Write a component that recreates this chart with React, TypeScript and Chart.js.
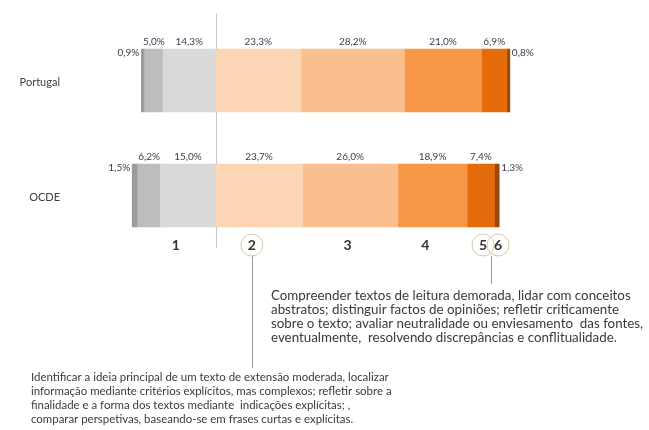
import React, { useEffect, useRef } from "react";
import { Chart, registerables } from "chart.js";

Chart.register(...registerables);

// ---- data ----
const countries = ["Portugal", "OCDE"];
const belowLevel1b = [0.9, 1.5];
const level1b = [5.0, 6.2];
const level1a = [14.3, 15.0];
const level2 = [23.3, 23.7];
const level3 = [28.2, 26.0];
const level4 = [21.0, 18.9];
const level5 = [6.9, 7.4];
const level6 = [0.8, 1.3];
const levelTicks = ["1", "2", "3", "4", "5", "6"];
const levelTickValues = [-10.8, 9.9, 36.0, 57.2, 72.9, 77.0];
const circledTicks = [1, 4, 5];

const rightText = [
  "Compreender textos de leitura demorada, lidar com conceitos",
  "abstratos; distinguir factos de opiniões; refletir criticamente",
  "sobre o texto; avaliar neutralidade ou enviesamento  das fontes,",
  "eventualmente,  resolvendo discrepâncias e conflitualidade.",
];
const leftText = [
  "Identificar a ideia principal de um texto de extensão moderada, localizar",
  "informação mediante critérios explícitos, mas complexos; refletir sobre a",
  "finalidade e a forma dos textos mediante  indicações explícitas; ,",
  "comparar perspetivas, baseando-se em frases curtas e explícitas.",
];

const FONT = "Lato, 'Open Sans', sans-serif";
const fmt = (v: number) => v.toFixed(1).replace(".", ",") + "%";

function drawBlock(ctx: CanvasRenderingContext2D, lines: string[], x: number, y0: number, lh: number, target: number) {
  ctx.font = `10px ${FONT}`;
  const w = ctx.measureText(lines[0]).width;
  const size = (10 * target) / w;
  ctx.font = `${size.toFixed(2)}px ${FONT}`;
  ctx.fillStyle = "#3a3a3a";
  ctx.textAlign = "left";
  ctx.textBaseline = "middle";
  lines.forEach((l, i) => ctx.fillText(l, x, y0 + i * lh));
}

const overlay = {
  id: "overlay",
  beforeDatasetsDraw(chart: any) {
    const ctx = chart.ctx;
    const xs = chart.scales.x;
    const x0 = Math.round(xs.getPixelForValue(0)) + 0.5;
    ctx.save();
    ctx.strokeStyle = "#c8c8c8";
    ctx.lineWidth = 1;
    ctx.beginPath();
    ctx.moveTo(x0, 13);
    ctx.lineTo(x0, 248);
    ctx.stroke();
    ctx.restore();
  },
  afterDatasetsDraw(chart: any) {
    const ctx: CanvasRenderingContext2D = chart.ctx;
    const xs = chart.scales.x;
    const ys = chart.scales.y;
    const nDs = chart.data.datasets.length;
    ctx.save();
    // value labels
    ctx.font = `10px ${FONT}`;
    ctx.fillStyle = "#3d3d50";
    ctx.textBaseline = "middle";
    for (let d = 0; d < nDs; d++) {
      const meta = chart.getDatasetMeta(d);
      const vals = chart.data.datasets[d].data as number[];
      meta.data.forEach((el: any, i: number) => {
        const p = el.getProps(["x", "y", "base", "height"], true);
        const left = Math.min(p.x, p.base);
        const right = Math.max(p.x, p.base);
        const top = p.y - p.height / 2;
        const txt = fmt(Math.abs(vals[i]));
        if (d === 2) {
          ctx.textAlign = "right";
          ctx.fillText(txt, left - 2, top + 4);
        } else if (d === nDs - 1) {
          ctx.textAlign = "left";
          ctx.fillText(txt, right + 2, top + 4);
        } else {
          ctx.textAlign = "center";
          ctx.fillText(txt, (left + right) / 2, top - 7);
        }
      });
    }
    // country labels
    ctx.font = `11px ${FONT}`;
    ctx.fillStyle = "#404040";
    ctx.textAlign = "right";
    countries.forEach((c, i) => ctx.fillText(c, 60, ys.getPixelForValue(i) + 2));

    // level numbers
    const ly = 245;
    ctx.strokeStyle = "#d9c8a6";
    ctx.lineWidth = 1;
    circledTicks.forEach((k) => {
      const cx = xs.getPixelForValue(levelTickValues[k]);
      ctx.beginPath();
      ctx.arc(cx, ly, 11, 0, Math.PI * 2);
      ctx.stroke();
    });
    ctx.font = `bold 14px ${FONT}`;
    ctx.fillStyle = "#333333";
    ctx.textAlign = "center";
    levelTicks.forEach((t, k) => ctx.fillText(t, xs.getPixelForValue(levelTickValues[k]), ly));

    // connectors
    ctx.strokeStyle = "#9a9a9a";
    const c2 = Math.round(xs.getPixelForValue(levelTickValues[1])) + 0.5;
    ctx.beginPath();
    ctx.moveTo(c2, ly + 11);
    ctx.lineTo(c2, 368);
    ctx.stroke();
    const c56 = Math.round((xs.getPixelForValue(levelTickValues[4]) + xs.getPixelForValue(levelTickValues[5])) / 2) + 0.5;
    ctx.beginPath();
    ctx.moveTo(c56, ly + 11);
    ctx.lineTo(c56, 284);
    ctx.stroke();

    // annotation texts
    drawBlock(ctx, rightText, 271, 296, 14, 360);
    drawBlock(ctx, leftText, 31, 377, 14, 358);
    ctx.restore();
  },
};

export default function App() {
  const ref = useRef<HTMLCanvasElement | null>(null);
  useEffect(() => {
    if (!ref.current) return;
    const neg = (a: number[]) => a.map((v) => -v);
    const chart = new Chart(ref.current, {
      type: "bar",
      data: {
        labels: countries,
        datasets: [
          { label: "Nível 1a", data: neg(level1a), backgroundColor: "#d9d9d9" },
          { label: "Nível 1b", data: neg(level1b), backgroundColor: "#bdbdbd" },
          { label: "Abaixo do nível 1b", data: neg(belowLevel1b), backgroundColor: "#9c9c9c" },
          { label: "Nível 2", data: level2, backgroundColor: "#fcd5b4" },
          { label: "Nível 3", data: level3, backgroundColor: "#fabf8f" },
          { label: "Nível 4", data: level4, backgroundColor: "#f79646" },
          { label: "Nível 5", data: level5, backgroundColor: "#e46c0a" },
          { label: "Nível 6", data: level6, backgroundColor: "#984807" },
        ],
      },
      options: {
        indexAxis: "y",
        responsive: false,
        animation: false,
        layout: { padding: { left: 105.4, right: 66.5, top: 23, bottom: 177 } },
        plugins: { legend: { display: false }, tooltip: { enabled: false } },
        datasets: { bar: { barThickness: 63, borderWidth: 0 } },
        scales: {
          x: { stacked: true, min: -30, max: 100, display: false },
          y: { stacked: true, display: false },
        },
      },
      plugins: [overlay],
    });
    return () => chart.destroy();
  }, []);
  return (
    <div style={{ position: "fixed", left: 0, top: 0, width: 649, height: 430, background: "#fff" }}>
      <canvas ref={ref} width={649} height={430} style={{ width: 649, height: 430, display: "block" }} />
    </div>
  );
}
